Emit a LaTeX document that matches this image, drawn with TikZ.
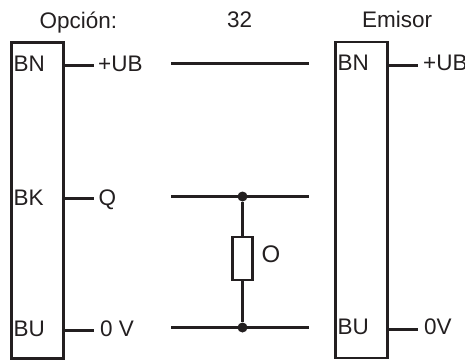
\documentclass[tikz,border=0pt]{standalone}
\usepackage{fontspec}
\setmainfont{Liberation Sans}
\definecolor{ink}{HTML}{231F20}
\tikzset{
  wire/.style={draw=ink,line width=2.8pt},
  termbox/.style={draw=ink,line width=2.9pt,rectangle,inner sep=0pt,anchor=north west},
  lab/.style={inner sep=0pt,anchor=base west,text=ink,font=\fontsize{22.5}{25}\selectfont},
  dotnode/.style={circle,fill=ink,inner sep=0pt,minimum size=10pt},
}
\begin{document}
\begin{tikzpicture}[x=1pt,y=-1pt]
\useasboundingbox (0,0) rectangle (465,360);
% boxes
\node[termbox,minimum width=52.5pt,minimum height=316pt] (optbox) at (9.8,41.2) {};
\node[termbox,minimum width=52.5pt,minimum height=316pt] (emibox) at (333.8,40.5) {};
% titles
\node[lab] (titleopt) at (39.5,28) {Opción:};
\node[lab] (titlenum) at (227,27.5) {32};
\node[lab] (titleemi) at (362,27.5) {Emisor};
% left terminals
\node[lab] (lbn) at (13.5,71) {BN};
\node[lab] (lbk) at (13.5,205) {BK};
\node[lab] (lbu) at (13.5,336) {BU};
\node[lab] (lub) at (98,71) {+UB};
\node[lab] (lq) at (98.5,205) {Q};
\node[lab] (lzero) at (100,336) {0 V};
% right terminals
\node[lab] (rbn) at (337.5,70.5) {BN};
\node[lab] (rbu) at (337.5,334.5) {BU};
\node[lab] (rub) at (423,70.5) {+UB};
\node[lab] (rzero) at (424,334.5) {0V};
% stubs
\coordinate (s1a) at (62.5,65.6); \coordinate (s1b) at (94,65.6);
\coordinate (s2a) at (62.5,198.6); \coordinate (s2b) at (94,198.6);
\coordinate (s3a) at (62.5,330.6); \coordinate (s3b) at (93.5,330.6);
\coordinate (s4a) at (386,65.5); \coordinate (s4b) at (418,65.5);
\coordinate (s5a) at (386,329.5); \coordinate (s5b) at (417.5,329.5);
\draw[wire] (s1a) -- (s1b);
\draw[wire] (s2a) -- (s2b);
\draw[wire] (s3a) -- (s3b);
\draw[wire] (s4a) -- (s4b);
\draw[wire] (s5a) -- (s5b);
% bus lines
\coordinate (b1a) at (171,63.5); \coordinate (b1b) at (309,63.5);
\coordinate (b2a) at (171,196.5); \coordinate (b2b) at (309,196.5);
\coordinate (b3a) at (171,327.5); \coordinate (b3b) at (309,327.5);
\draw[wire] (b1a) -- (b1b);
\draw[wire] (b2a) -- (b2b);
\draw[wire] (b3a) -- (b3b);
% junctions and resistor
\node[dotnode] (jtop) at (242.5,196.5) {};
\node[dotnode] (jbot) at (242.5,327.5) {};
\node[draw=ink,line width=2.8pt,rectangle,inner sep=0pt,minimum width=20pt,minimum height=43pt,fill=white] (res) at (242.5,258.5) {};
\draw[wire] (jtop) -- (res);
\draw[wire] (res) -- (jbot);
\node[inner sep=0pt,text=ink,font=\fontsize{24}{26}\selectfont] (olabel) at (271,254) {O};
\end{tikzpicture}
\end{document}
